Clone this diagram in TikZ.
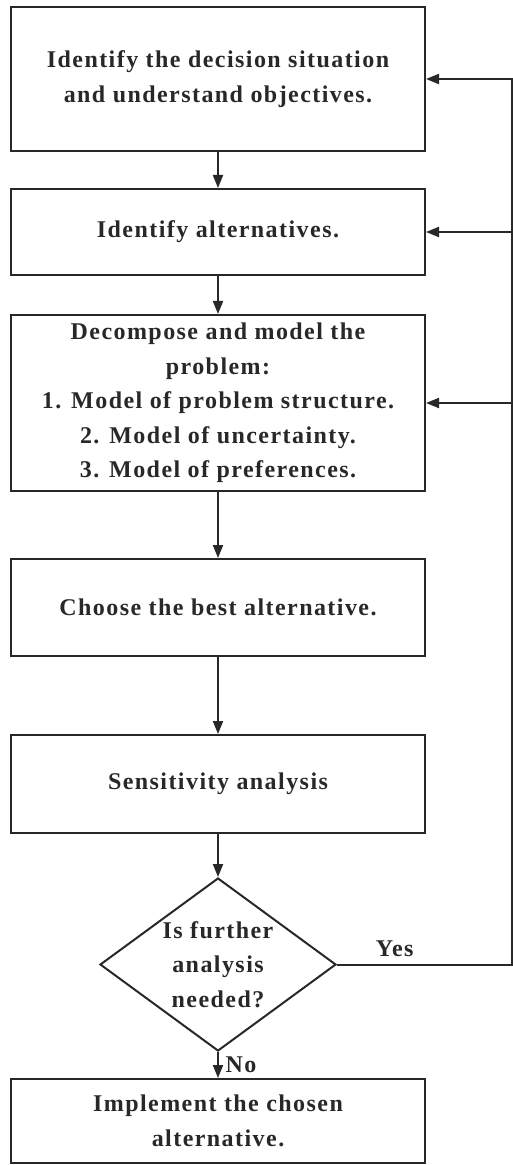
\documentclass[tikz,border=0pt]{standalone}
\usepackage{fontspec}
\setmainfont{Liberation Serif}[LetterSpace=6]
\usepackage{tikz}
\usetikzlibrary{shapes,arrows,arrows.meta}
\definecolor{ink}{RGB}{40,40,40}
\tikzset{
  block/.style    = {draw, rectangle, line width=1pt, minimum width=207pt, align=center},
  decision/.style = {draw, diamond, line width=1pt, aspect=1.36, minimum width=118pt, minimum height=86.5pt, inner sep=0pt, align=center},
  edge/.style     = {line width=1pt}
}

\begin{document}
\begin{tikzpicture}[auto, node distance=2cm, >={Triangle[length=6.5pt,width=5pt]}, x=1pt, y=1pt, ink,
  font=\fontsize{12}{17.2}\selectfont\bfseries]
\useasboundingbox (0,0) rectangle (256.5,-582.5);

% Steps of the analysis
\draw node [block, name=ident, minimum height=72pt] at (109,-39.5) {Identify the decision situation\\and understand objectives.};
\draw node [block, name=alt, below of=ident, node distance=76.5pt, minimum height=43pt] {Identify alternatives.};
\draw node [block, name=model, below of=alt, node distance=85.5pt, minimum height=88pt] {Decompose and model the\\problem:\\1. Model of problem structure.\\2. Model of uncertainty.\\3. Model of preferences.};
\draw node [block, name=choose, below of=model, node distance=102.25pt, minimum height=48.5pt] {Choose the best alternative.};
\draw node [block, name=sens, below of=choose, node distance=88.25pt, minimum height=49pt] {Sensitivity analysis};
\draw node [decision, name=further, below of=sens, node distance=90.25pt] {Is further\\analysis\\needed?};
\draw node [block, name=impl, below of=further, node distance=78.25pt, minimum height=42pt] {Implement the chosen\\alternative.};

% Feedback line
\coordinate (back) at (256,0);

% Connections
\draw[edge, ->](ident) -- (alt);
\draw[edge, ->](alt) -- (model);
\draw[edge, ->](model) -- (choose);
\draw[edge, ->](choose) -- (sens);
\draw[edge, ->](sens) -- (further);
\draw[edge, ->](further) -- node [right] {No} (impl);
\draw[edge, ->](further.east) -- node [pos=0.33] {Yes} (further.east -| back) |- (ident.east);
\draw[edge, ->](alt.east -| back) -- (alt.east);
\draw[edge, ->](model.east -| back) -- (model.east);

\end{tikzpicture}
\end{document}
